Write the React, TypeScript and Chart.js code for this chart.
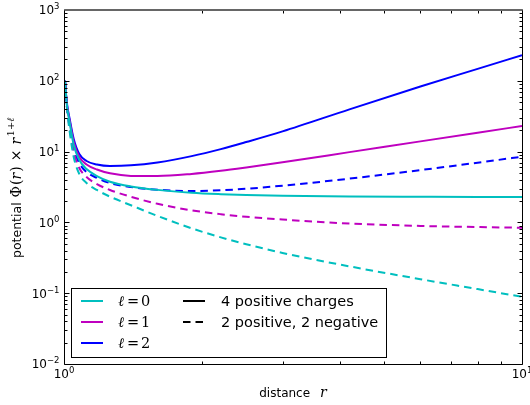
import React, { useEffect, useRef } from "react";
import { Chart, registerables } from "chart.js";

Chart.register(...registerables);

// distance r (log axis)
const radii = [1.005, 1.014, 1.03, 1.05, 1.08, 1.12, 1.18, 1.26, 1.4, 1.6, 1.9, 2.2, 2.5, 3, 4.2, 6, 8, 10];

// 4 positive charges
const l0Positive = [100, 47, 24.5, 12.4, 7.61, 5.68, 4.52, 3.76, 3.22, 2.88, 2.62, 2.5, 2.43, 2.37, 2.32, 2.3, 2.29, 2.29];
const l1Positive = [100, 48, 26.2, 13.7, 8.39, 6.57, 5.59, 4.94, 4.54, 4.51, 4.83, 5.35, 5.97, 7.07, 9.83, 13.95, 18.49, 23.0];
const l2Positive = [100, 50, 27.9, 15.1, 9.25, 7.36, 6.57, 6.26, 6.39, 7.02, 8.63, 10.83, 13.63, 19.28, 39.5, 82.9, 147.3, 230];

// 2 positive, 2 negative
const l0Mixed = [100, 44, 18.3, 8.39, 4.83, 3.6, 2.87, 2.31, 1.747, 1.235, 0.824, 0.615, 0.4915, 0.3706, 0.2393, 0.1577, 0.1143, 0.089];
const l1Mixed = [100, 45, 20.2, 9.87, 5.87, 4.38, 3.48, 2.87, 2.3, 1.833, 1.479, 1.306, 1.201, 1.097, 0.965, 0.892, 0.86, 0.841];
const l2Mixed = [100, 46, 23.0, 11.2, 6.9, 5.15, 4.24, 3.6, 3.16, 2.9, 2.775, 2.84, 2.985, 3.3, 4.15, 5.48, 6.97, 8.47];

const xTickExponents = [0, 1];
const yTickExponents = [-2, -1, 0, 1, 2, 3];
const minorMultipliers = [2, 3, 4, 5, 6, 7, 8, 9];

const ellValues = ["0", "1", "2"];
const styleLabels = ["4 positive charges", "2 positive, 2 negative"];
const xTitle = "distance";
const yTitle = "potential";

const CYAN = "#00bfbf";
const MAGENTA = "#bf00bf";
const BLUE = "#0000ff";
const ellColors = [CYAN, MAGENTA, BLUE];
const DASH = [7.5, 5];

const SANS = "'DejaVu Sans', sans-serif";
const SERIF = "'DejaVu Serif', serif";

function pts(ys: number[]) {
  return radii.map((r, i) => ({ x: r, y: ys[i] }));
}

function sup(n: number) {
  return n < 0 ? "\u2212" + String(-n) : String(n);
}

type Seg = { t: string; font: string; dy?: number; gap?: number };

function drawSegs(ctx: CanvasRenderingContext2D, segs: Seg[], x: number, y: number) {
  let cx = x;
  for (const s of segs) {
    cx += s.gap || 0;
    ctx.font = s.font;
    ctx.fillText(s.t, cx, y + (s.dy || 0));
    cx += ctx.measureText(s.t).width;
  }
  return cx;
}
function segsWidth(ctx: CanvasRenderingContext2D, segs: Seg[]) {
  let w = 0;
  for (const s of segs) {
    ctx.font = s.font;
    w += (s.gap || 0) + ctx.measureText(s.t).width;
  }
  return w;
}

const axesPlugin = {
  id: "mplAxes",
  afterDraw(chart: any) {
    const ctx: CanvasRenderingContext2D = chart.ctx;
    const { left, right, top, bottom } = chart.chartArea;
    const xs = chart.scales.x;
    const ys = chart.scales.y;
    const L = Math.round(left) + 0.5;
    const R = Math.round(right) + 0.5;
    const T = Math.round(top) + 0.5;
    const B = Math.round(bottom) + 0.5;
    ctx.save();
    ctx.setLineDash([]);

    // ticks (inward, all four sides)
    ctx.strokeStyle = "#000";
    ctx.lineWidth = 1;
    ctx.beginPath();
    for (let e = -2; e <= 3; e++) {
      const yy = Math.round(ys.getPixelForValue(Math.pow(10, e))) + 0.5;
      ctx.moveTo(L, yy); ctx.lineTo(L + 5, yy);
      ctx.moveTo(R, yy); ctx.lineTo(R - 5, yy);
      if (e < 3) {
        for (const m of minorMultipliers) {
          const ym = Math.round(ys.getPixelForValue(m * Math.pow(10, e))) + 0.5;
          ctx.moveTo(L, ym); ctx.lineTo(L + 3, ym);
          ctx.moveTo(R, ym); ctx.lineTo(R - 3, ym);
        }
      }
    }
    for (const m of minorMultipliers) {
      const xm = Math.round(xs.getPixelForValue(m)) + 0.5;
      ctx.moveTo(xm, B); ctx.lineTo(xm, B - 3);
      ctx.moveTo(xm, T); ctx.lineTo(xm, T + 3);
    }
    ctx.stroke();

    // frame
    ctx.beginPath();
    ctx.strokeStyle = "#000";
    ctx.lineWidth = 1;
    ctx.moveTo(L, T - 1); ctx.lineTo(L, B);
    ctx.lineTo(R, B); ctx.lineTo(R, T - 1);
    ctx.stroke();
    ctx.beginPath();
    ctx.strokeStyle = "#666";
    ctx.lineWidth = 2;
    ctx.moveTo(L, top); ctx.lineTo(R, top);
    ctx.stroke();

    // tick labels
    ctx.fillStyle = "#000";
    ctx.textBaseline = "alphabetic";
    ctx.textAlign = "left";
    const base = "12px " + SANS;
    const small = "8.5px " + SANS;
    for (const e of yTickExponents) {
      const yy = ys.getPixelForValue(Math.pow(10, e));
      const segs: Seg[] = [
        { t: "10", font: base },
        { t: sup(e), font: small, dy: -5 },
      ];
      const w = segsWidth(ctx, segs);
      drawSegs(ctx, segs, left - 4.5 - w, yy + 4.4);
    }
    for (const e of xTickExponents) {
      const xx = xs.getPixelForValue(Math.pow(10, e));
      const segs: Seg[] = [
        { t: "10", font: base },
        { t: sup(e), font: small, dy: -5 },
      ];
      const w = segsWidth(ctx, segs);
      drawSegs(ctx, segs, xx - w / 2, 378.3);
    }

    // x title
    const xt: Seg[] = [
      { t: xTitle, font: "12px " + SANS },
      { t: "r", font: "italic 14px " + SERIF, gap: 10 },
    ];
    const xw = segsWidth(ctx, xt);
    drawSegs(ctx, xt, (left + right) / 2 - xw / 2, 397);

    // y title (rotated)
    const mf = "14px " + SERIF;
    const mi = "italic 14px " + SERIF;
    const yt: Seg[] = [
      { t: yTitle, font: "12.5px " + SANS },
      { t: "\u03A6", font: mf, gap: 5 },
      { t: "(", font: mf, gap: 1 },
      { t: "r", font: mi },
      { t: ")", font: mf, gap: 1 },
      { t: "\u00D7", font: mf, gap: 5 },
      { t: "r", font: mi, gap: 5 },
      { t: "1+", font: "10px " + SERIF, dy: -6.5, gap: 1.5 },
      { t: "\u2113", font: "italic 10px " + SERIF, dy: -6.5 },
    ];
    ctx.save();
    ctx.translate(20.5, 258);
    ctx.rotate(-Math.PI / 2);
    drawSegs(ctx, yt, 0, 0);
    ctx.restore();

    // legend
    const bx = 71.5, by = 288.5, bw = 315, bh = 69;
    ctx.fillStyle = "#fff";
    ctx.fillRect(bx, by, bw, bh);
    ctx.strokeStyle = "#000";
    ctx.lineWidth = 1;
    ctx.strokeRect(bx, by, bw, bh);
    const rows = [301, 322, 343];
    ctx.lineWidth = 2;
    for (let i = 0; i < 3; i++) {
      ctx.strokeStyle = ellColors[i];
      ctx.setLineDash([]);
      ctx.beginPath();
      ctx.moveTo(81, rows[i]); ctx.lineTo(103, rows[i]);
      ctx.stroke();
      ctx.fillStyle = "#000";
      ctx.font = "italic 14.5px " + SERIF;
      ctx.fillText("\u2113", 118, rows[i] + 5.2);
      ctx.font = "14.5px " + SERIF;
      ctx.fillText("=", 127, rows[i] + 5.2);
      ctx.fillText(ellValues[i], 141, rows[i] + 5.2);
    }
    for (let i = 0; i < 2; i++) {
      ctx.strokeStyle = "#000";
      ctx.setLineDash(i === 0 ? [] : DASH);
      ctx.beginPath();
      ctx.moveTo(183, rows[i]); ctx.lineTo(205, rows[i]);
      ctx.stroke();
      ctx.fillStyle = "#000";
      ctx.font = "14.5px " + SANS;
      ctx.fillText(styleLabels[i], 221, rows[i] + 5.2);
    }
    ctx.restore();
  },
};

export default function App() {
  const ref = useRef<HTMLCanvasElement | null>(null);
  useEffect(() => {
    if (!ref.current) return;
    const mk = (ys: number[], color: string, dashed: boolean) => ({
      data: pts(ys),
      borderColor: color,
      backgroundColor: color,
      borderWidth: 2,
      borderDash: dashed ? DASH : [],
      pointRadius: 0,
      fill: false,
      cubicInterpolationMode: "monotone" as const,
    });
    const chart = new Chart(ref.current, {
      type: "line",
      data: {
        datasets: [
          mk(l0Positive, CYAN, false),
          mk(l1Positive, MAGENTA, false),
          mk(l2Positive, BLUE, false),
          mk(l0Mixed, CYAN, true),
          mk(l1Mixed, MAGENTA, true),
          mk(l2Mixed, BLUE, true),
        ],
      },
      options: {
        responsive: false,
        animation: false,
        devicePixelRatio: 1,
        layout: { padding: { left: 64, right: 8, top: 10, bottom: 41 } },
        plugins: { legend: { display: false }, tooltip: { enabled: false } },
        scales: {
          x: { type: "logarithmic", min: 1, max: 10, display: false },
          y: { type: "logarithmic", min: 0.01, max: 1000, display: false },
        },
      },
      plugins: [axesPlugin],
    });
    return () => chart.destroy();
  }, []);
  return (
    <div style={{ position: "fixed", left: 0, top: 0, width: 530, height: 405, background: "#fff" }}>
      <canvas ref={ref} width={530} height={405} style={{ display: "block" }} />
    </div>
  );
}
